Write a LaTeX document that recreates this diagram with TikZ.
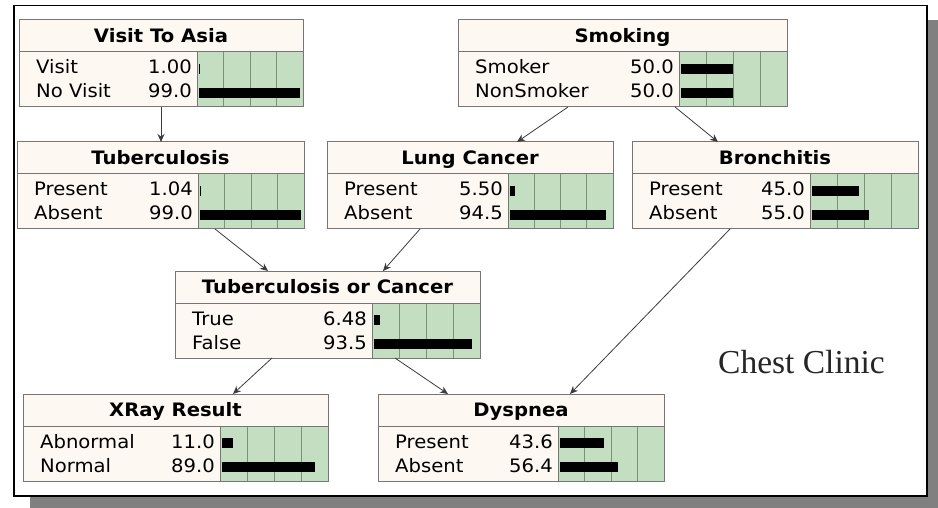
\documentclass[tikz,border=0pt]{standalone}
\usepackage{fontspec}
\setmainfont{DejaVu Sans}[FakeStretch=1.06]
\newfontfamily\clinicfont{Liberation Serif}
\usetikzlibrary{arrows.meta,calc}

\definecolor{cream}{RGB}{253,249,242}
\definecolor{belief}{RGB}{196,222,194}
\definecolor{gridgreen}{RGB}{118,148,118}
\definecolor{boxline}{RGB}{118,118,118}
\definecolor{linkgray}{RGB}{60,60,60}
\definecolor{shadowgray}{RGB}{128,128,128}

\begin{document}
\begin{tikzpicture}[
  x=1pt, y=-1pt,
  font=\fontsize{18.5}{20}\selectfont,
  >=Stealth,
  frame/.style={draw=black, fill=white, line width=1.8pt},
  ttl/.style={draw=boxline, fill=cream, line width=1pt, inner sep=0pt, outer sep=0pt,
    minimum height=32pt, text height=16pt, text depth=3.5pt, anchor=north west,
    font=\fontsize{18.5}{20}\selectfont\bfseries},
  body/.style={draw=boxline, fill=cream, line width=1pt, inner sep=0pt, outer sep=0pt,
    minimum height=55pt, anchor=north west},
  grid/.style={draw=gridgreen, line width=0.7pt},
  bar/.style={fill=black},
  txt/.style={inner sep=0pt},
  link/.style={draw=linkgray, line width=0.8pt, -{Stealth[length=8pt, width=7pt]}},
]
  \useasboundingbox (0,0) rectangle (938,508);
  \fill[shadowgray] (30,20) rectangle (938,508);
  \draw[frame] (14,5.5) rectangle (927,496);

  % chance nodes: name/left/top/width/belief width/title
  \foreach \n/\x/\y/\w/\W/\t in {
      asia/19/20/284/106/Visit To Asia,
      smoking/458/20/329/108/Smoking,
      tub/17/142/287/106/Tuberculosis,
      lung/327/142/286/105/Lung Cancer,
      bronch/632/142/286/108/Bronchitis,
      torc/175/271/305/108/Tuberculosis or Cancer,
      xray/23/394/305/108/XRay Result,
      dysp/378/394/286/106/Dyspnea} {
    \node[ttl, minimum width=\w pt] (\n) at (\x,\y) {\t};
    \node[body, minimum width=\w pt] (\n-b) at (\n.south west) {};
    \coordinate (\n-g) at ($(\n-b.north east)+(-\W,0)$);
    \fill[belief] (\n-g) rectangle (\n-b.south east);
    \foreach \k in {1,2,3}
      \draw[grid] ($(\n-g)+(\k*\W/4,0)$) -- ++(0,55);
    \draw[boxline, line width=1pt] (\n-g) -- (\n-g |- \n-b.south);
    \draw[boxline, line width=1pt] (\n-b.north west) rectangle (\n-b.south east);
  }

  % belief rows: name/row/state/value
  \foreach \n/\r/\lab/\val in {
      asia/1/Visit/1.00, asia/2/No Visit/99.0,
      smoking/1/Smoker/50.0, smoking/2/NonSmoker/50.0,
      tub/1/Present/1.04, tub/2/Absent/99.0,
      lung/1/Present/5.50, lung/2/Absent/94.5,
      bronch/1/Present/45.0, bronch/2/Absent/55.0,
      torc/1/True/6.48, torc/2/False/93.5,
      xray/1/Abnormal/11.0, xray/2/Normal/89.0,
      dysp/1/Present/43.6, dysp/2/Absent/56.4} {
    \pgfmathsetmacro\base{22+24*(\r-1)}
    \node[txt, anchor=base west] (\n-l\r) at ($(\n-b.north west)+(17,\base)$) {\lab};
    \node[txt, anchor=base east] (\n-v\r) at ($(\n-g)+(-5,\base)$) {\val};
    \fill[bar] ($(\n-g)+(1.5,\base-10)$)
      rectangle ($(\n-g)!{\val/103}!(\n-b.north east)+(1.5,\base)$);
  }

  \node[txt, anchor=base west, font=\clinicfont\fontsize{33.5}{35}\selectfont,
    text=black!85] (clinic) at (718,373) {Chest Clinic};

  \draw[link] ($(asia-b.south west)+(142,0)$) -- ($(tub.north west)+(144,0)$);
  \draw[link] ($(smoking-b.south west)+(110,0)$) -- ($(lung.north west)+(190,0)$);
  \draw[link] ($(smoking-b.south west)+(217,0)$) -- ($(bronch.north west)+(86,0)$);
  \draw[link] ($(tub-b.south west)+(198,0)$) -- ($(torc.north west)+(93,0)$);
  \draw[link] ($(lung-b.south west)+(93,0)$) -- ($(torc.north west)+(208,0)$);
  \draw[link] ($(torc-b.south west)+(97,0)$) -- ($(xray.north west)+(210,0)$);
  \draw[link] ($(torc-b.south west)+(220,0)$) -- ($(dysp.north west)+(70,0)$);
  \draw[link] ($(bronch-b.south west)+(98,0)$) -- ($(dysp.north west)+(192,0)$);
\end{tikzpicture}
\end{document}
